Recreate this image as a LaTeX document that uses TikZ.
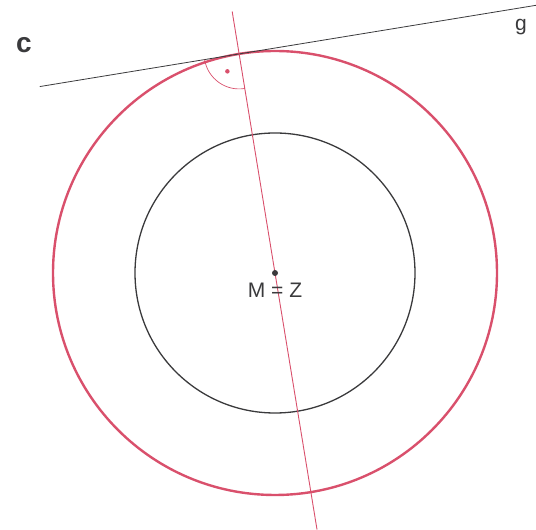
\documentclass[tikz,border=0pt]{standalone}
\usepackage{fontspec}
\setmainfont{Liberation Sans}
\usetikzlibrary{calc,positioning}
\definecolor{Ink}{HTML}{3A3A3C}
\definecolor{Rose}{HTML}{D9506C}
\tikzset{circ/.style={draw=Ink,line width=1.3pt},outer/.style={draw=Rose,line width=2.4pt},radial/.style={draw=Rose,line width=0.9pt},tangent/.style={draw=Ink,line width=0.8pt},lbl/.style={font=\fontsize{21}{24}\selectfont,text=Ink,inner sep=0pt},dot/.style={circle,fill=#1,inner sep=0pt,minimum size=6pt}}
\begin{document}
\begin{tikzpicture}[x=1pt,y=1pt]
      \useasboundingbox(0,0)rectangle(536,530);
      \coordinate(M)at(275,257);
      \coordinate(T)at($(M)+(99.3:222)$);
      \coordinate(gl)at($(T)+(189.3:202)$);
      \coordinate(gr)at($(T)+(9.3:301)$);
      \coordinate(rt)at($(M)+(99.3:265)$);
      \coordinate(rb)at($(M)+(279.3:260)$);
      \draw[circ](M)circle[radius=140];
      \draw[outer](M)circle[radius=222];
      \draw[tangent](gl)--(gr);
      \draw[radial](rt)--(rb);
      \draw[radial,line width=0.7pt]($(T)+(189.3:35)$)arc[start angle=189.3,end angle=279.3,radius=35];
      \node[dot=Rose,minimum size=4.5pt](ra)at($(T)+(236:21)$){};
      \node[dot=Ink](m)at(M){};
      \node[lbl,anchor=base](mz)at($(M)+(0,-25)$){M = Z};
      \node[lbl,anchor=base west](g)at(515,499){g};
      \node[lbl,anchor=base west,font=\fontsize{28}{30}\selectfont\bfseries](c)at(16,477){c};
    \end{tikzpicture}
\end{document}
